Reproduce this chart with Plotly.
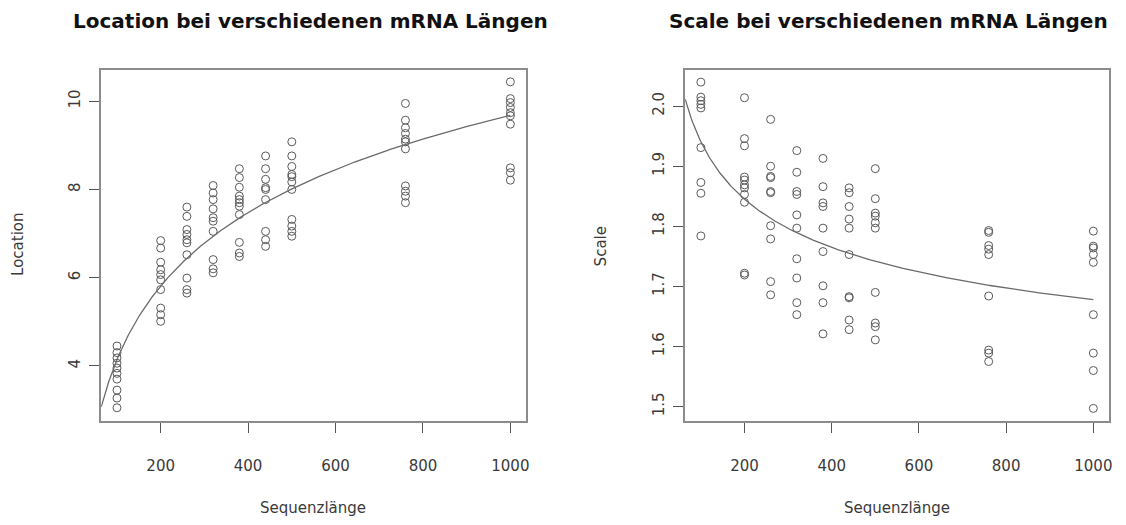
import numpy as np
import plotly.graph_objects as go

# Sequence lengths (one entry per measured value)
loc_lengths = ([100] * 10 + [200] * 10 + [260] * 10 + [320] * 10 + [380] * 11
               + [440] * 9 + [500] * 11 + [760] * 11 + [1000] * 10)
location = [
    4.45, 4.30, 4.18, 4.06, 3.95, 3.83, 3.70, 3.45, 3.27, 3.05,
    6.84, 6.67, 6.35, 6.18, 6.07, 5.95, 5.73, 5.31, 5.16, 5.01,
    7.60, 7.39, 7.09, 6.98, 6.86, 6.79, 6.52, 5.99, 5.73, 5.65,
    8.09, 7.92, 7.77, 7.56, 7.36, 7.28, 7.05, 6.41, 6.20, 6.11,
    8.47, 8.27, 8.05, 7.85, 7.77, 7.70, 7.62, 7.43, 6.80, 6.56, 6.48,
    8.76, 8.47, 8.23, 8.04, 8.00, 7.77, 7.05, 6.86, 6.71,
    9.08, 8.76, 8.52, 8.34, 8.29, 8.17, 8.00, 7.32, 7.17, 7.05, 6.94,
    9.95, 9.57, 9.40, 9.27, 9.14, 9.08, 8.92, 8.08, 7.96, 7.85, 7.70,
    10.44, 10.06, 9.97, 9.86, 9.74, 9.67, 9.48, 8.49, 8.38, 8.21,
]

scale_lengths = ([100] * 9 + [200] * 11 + [260] * 10 + [320] * 10 + [380] * 9
                 + [440] * 10 + [500] * 10 + [760] * 9 + [1000] * 9)
scale = [
    2.040, 2.015, 2.009, 2.003, 1.997, 1.931, 1.873, 1.855, 1.784,
    2.014, 1.946, 1.934, 1.882, 1.877, 1.869, 1.864, 1.853, 1.840, 1.722, 1.719,
    1.978, 1.900, 1.883, 1.881, 1.858, 1.856, 1.801, 1.779, 1.708, 1.686,
    1.926, 1.890, 1.858, 1.853, 1.819, 1.797, 1.746, 1.714, 1.673, 1.653,
    1.913, 1.866, 1.839, 1.833, 1.797, 1.758, 1.701, 1.673, 1.621,
    1.864, 1.856, 1.833, 1.812, 1.797, 1.753, 1.683, 1.681, 1.644, 1.628,
    1.896, 1.846, 1.822, 1.817, 1.806, 1.797, 1.690, 1.639, 1.633, 1.611,
    1.793, 1.790, 1.768, 1.762, 1.753, 1.684, 1.594, 1.589, 1.575,
    1.792, 1.767, 1.764, 1.753, 1.740, 1.653, 1.589, 1.560, 1.497,
]

x_ticks = [200, 400, 600, 800, 1000]
loc_ticks = [4, 6, 8, 10]
scale_ticks = [1.5, 1.6, 1.7, 1.8, 1.9, 2.0]
scale_tick_text = ["1.5", "1.6", "1.7", "1.8", "1.9", "2.0"]

# Fitted model curves
loc_a, loc_b = -6.933, 2.405          # location = a + b * log(length)
scale_c, scale_d = 1.340, 1.900       # scale = c + d * length^(-1/4)
x_min, x_max = 64, 1000
xs = np.linspace(x_min, x_max, 400)
loc_fit = loc_a + loc_b * np.log(xs)
scale_fit = scale_c + scale_d * xs ** -0.25

FONT = "DejaVu Sans"
TXT = "#3a3a3a"
PT = "#5a5a5a"
LINE = "#6a6a6a"

fig = go.Figure()
marker = dict(symbol="circle-open", size=8, color=PT, line=dict(width=1, color=PT))
fig.add_trace(go.Scatter(x=loc_lengths, y=location, mode="markers", marker=marker,
                         xaxis="x", yaxis="y", showlegend=False))
fig.add_trace(go.Scatter(x=xs, y=loc_fit, mode="lines", line=dict(color=LINE, width=1.3),
                         xaxis="x", yaxis="y", showlegend=False))
fig.add_trace(go.Scatter(x=scale_lengths, y=scale, mode="markers", marker=marker,
                         xaxis="x2", yaxis="y2", showlegend=False))
fig.add_trace(go.Scatter(x=xs, y=scale_fit, mode="lines", line=dict(color=LINE, width=1.3),
                         xaxis="x2", yaxis="y2", showlegend=False))

W, H = 1126, 525
ydom = [1 - 421 / H, 1 - 69.5 / H]
common = dict(showgrid=False, zeroline=False, showline=True, mirror=True,
              linecolor="#8c8c8c", linewidth=1.5, ticks="outside", ticklen=10,
              tickcolor="#555555", tickwidth=1,
              tickfont=dict(family=FONT, size=15, color=TXT))
xcommon = dict(common, range=[64, 1036], tickvals=x_ticks, ticklabelstandoff=20)

fig.update_layout(
    width=W, height=H, margin=dict(l=0, r=0, t=0, b=0),
    paper_bgcolor="white", plot_bgcolor="white",
    xaxis=dict(xcommon, domain=[101.5 / W, 527.5 / W], anchor="y"),
    yaxis=dict(common, domain=ydom, range=[2.75, 10.72], tickvals=loc_ticks,
               tickangle=-90, ticklabelstandoff=3, anchor="x"),
    xaxis2=dict(xcommon, domain=[687 / W, 1112 / W], anchor="y2"),
    yaxis2=dict(common, domain=ydom, range=[1.476, 2.061], tickvals=scale_ticks,
                ticktext=scale_tick_text, tickangle=-90, ticklabelstandoff=3,
                anchor="x2"),
)

ann = []
title_font = dict(family=FONT, size=20, color="#111111")
ann.append(dict(text="<b>Location bei verschiedenen mRNA Längen</b>", x=311 / W, y=1 - 21 / H,
                xref="paper", yref="paper", showarrow=False, font=title_font,
                xanchor="center", yanchor="middle"))
ann.append(dict(text="<b>Scale bei verschiedenen mRNA Längen</b>", x=891 / W, y=1 - 21 / H,
                xref="paper", yref="paper", showarrow=False, font=title_font,
                xanchor="center", yanchor="middle"))
label_font = dict(family=FONT, size=15, color=TXT)
for cx in (314, 899.5):
    ann.append(dict(text="Sequenzlänge", x=cx / W, y=1 - 508 / H, xref="paper", yref="paper",
                    showarrow=False, font=label_font, xanchor="center", yanchor="middle"))
ann.append(dict(text="Location", x=18 / W, y=1 - 244 / H, xref="paper", yref="paper",
                showarrow=False, font=label_font, textangle=-90,
                xanchor="center", yanchor="middle"))
ann.append(dict(text="Scale", x=603 / W, y=1 - 246 / H, xref="paper", yref="paper",
                showarrow=False, font=label_font, textangle=-90,
                xanchor="center", yanchor="middle"))
fig.update_layout(annotations=ann)

fig.write_html("out.html")
